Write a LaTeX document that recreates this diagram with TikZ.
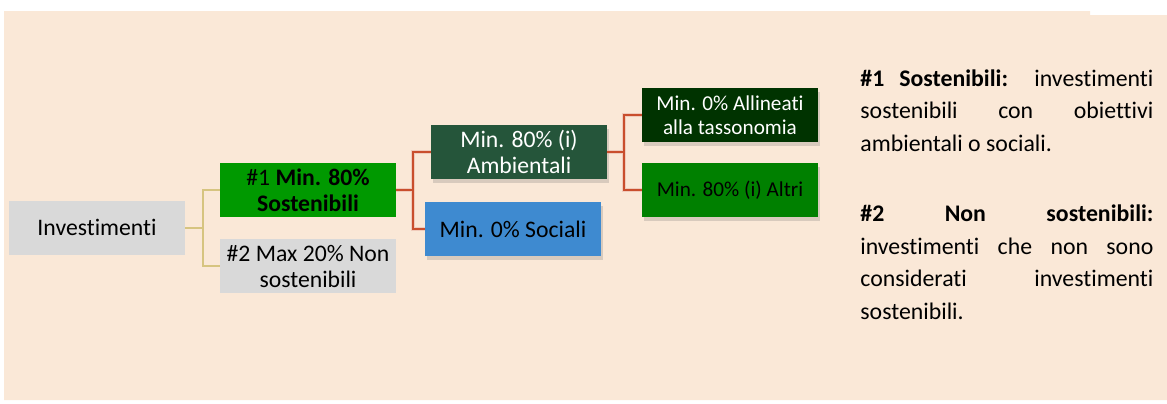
\documentclass[tikz,border=0pt]{standalone}
\usepackage{fontspec}
\setmainfont{Carlito}[Ligatures={NoCommon}]
\usetikzlibrary{shadows}
\definecolor{esgPeach}{RGB}{250,232,215}
\definecolor{esgGrey}{RGB}{217,217,217}
\definecolor{esgGreen}{RGB}{0,153,0}
\definecolor{esgDarkGreen}{RGB}{37,85,58}
\definecolor{esgDeepGreen}{RGB}{0,51,0}
\definecolor{esgMidGreen}{RGB}{0,128,0}
\definecolor{esgBlue}{RGB}{62,138,208}
\definecolor{esgTan}{RGB}{214,196,128}
\definecolor{esgRed}{RGB}{201,78,45}

\begin{document}
\begin{tikzpicture}[x=0.5pt,y=-0.5pt,
  box/.style={minimum width=88pt,minimum height=27pt,inner sep=0pt,align=center,font=\fontsize{11.85}{13}\selectfont},
  greybox/.style={box,fill=esgGrey},
  smalltext/.style={font=\fontsize{10.6}{12}\selectfont},
  shade/.style={drop shadow={shadow xshift=1pt,shadow yshift=-2pt,opacity=0.25,fill=black!55}},
  tanline/.style={draw=esgTan,line width=1pt},
  redline/.style={draw=esgRed,line width=1pt,preaction={draw=esgRed!45,line width=2.2pt,opacity=0.5}}
]
  \useasboundingbox (0,0) rectangle (1167,403);
  \fill[esgPeach] (4,11) -- (1090,11) -- (1090,15) -- (1167,15) -- (1167,400) -- (4,400) -- cycle;

  % tree of boxes
  \node[greybox] (inv) at (97,227.5) {Investimenti};
  \node[box,fill=esgGreen] (sost) at (308,190) {\#1 \textbf{Min. 80\%}\\\textbf{Sostenibili}};
  \node[greybox] (nons) at (308,266) {\#2 Max 20\% Non\\sostenibili};
  \node[box,shade,fill=esgDarkGreen,text=white] (amb) at (519,152) {Min. 80\% (i)\\Ambientali};
  \node[box,shade,fill=esgBlue] (soc) at (513,229) {Min. 0\% Sociali};
  \node[box,smalltext,shade,fill=esgDeepGreen,text=white] (tax) at (730,115) {Min. 0\% Allineati\\alla tassonomia};
  \node[box,smalltext,shade,fill=esgMidGreen] (alt) at (730,190) {Min. 80\% (i) Altri};

  \coordinate (j1) at (203,227.5);
  \coordinate (j2) at (413,190);
  \coordinate (j3) at (624,152);

  \draw[tanline] (inv.east) -- (j1) (sost.west) -| (j1) |- (nons.west);
  \draw[redline] (sost.east) -- (j2) (amb.west) -| (j2) |- (soc.west);
  \draw[redline] (amb.east) -- (j3) (tax.west) -| (j3) |- (alt.west);

  % legend
  \node[anchor=base west,text width=146.5pt,inner sep=0pt,align=justify] (legend) at (860,86)
    {\fontsize{11.9}{16.25}\selectfont\hyphenpenalty=10000 \tolerance=10000
     \textbf{\#1 Sostenibili:} investimenti\linebreak sostenibili con obiettivi\linebreak ambientali o sociali.\par\vspace{19pt}
     \textbf{\#2 Non sostenibili:}\linebreak investimenti che non sono\linebreak considerati investimenti\linebreak sostenibili.\par};
\end{tikzpicture}
\end{document}
